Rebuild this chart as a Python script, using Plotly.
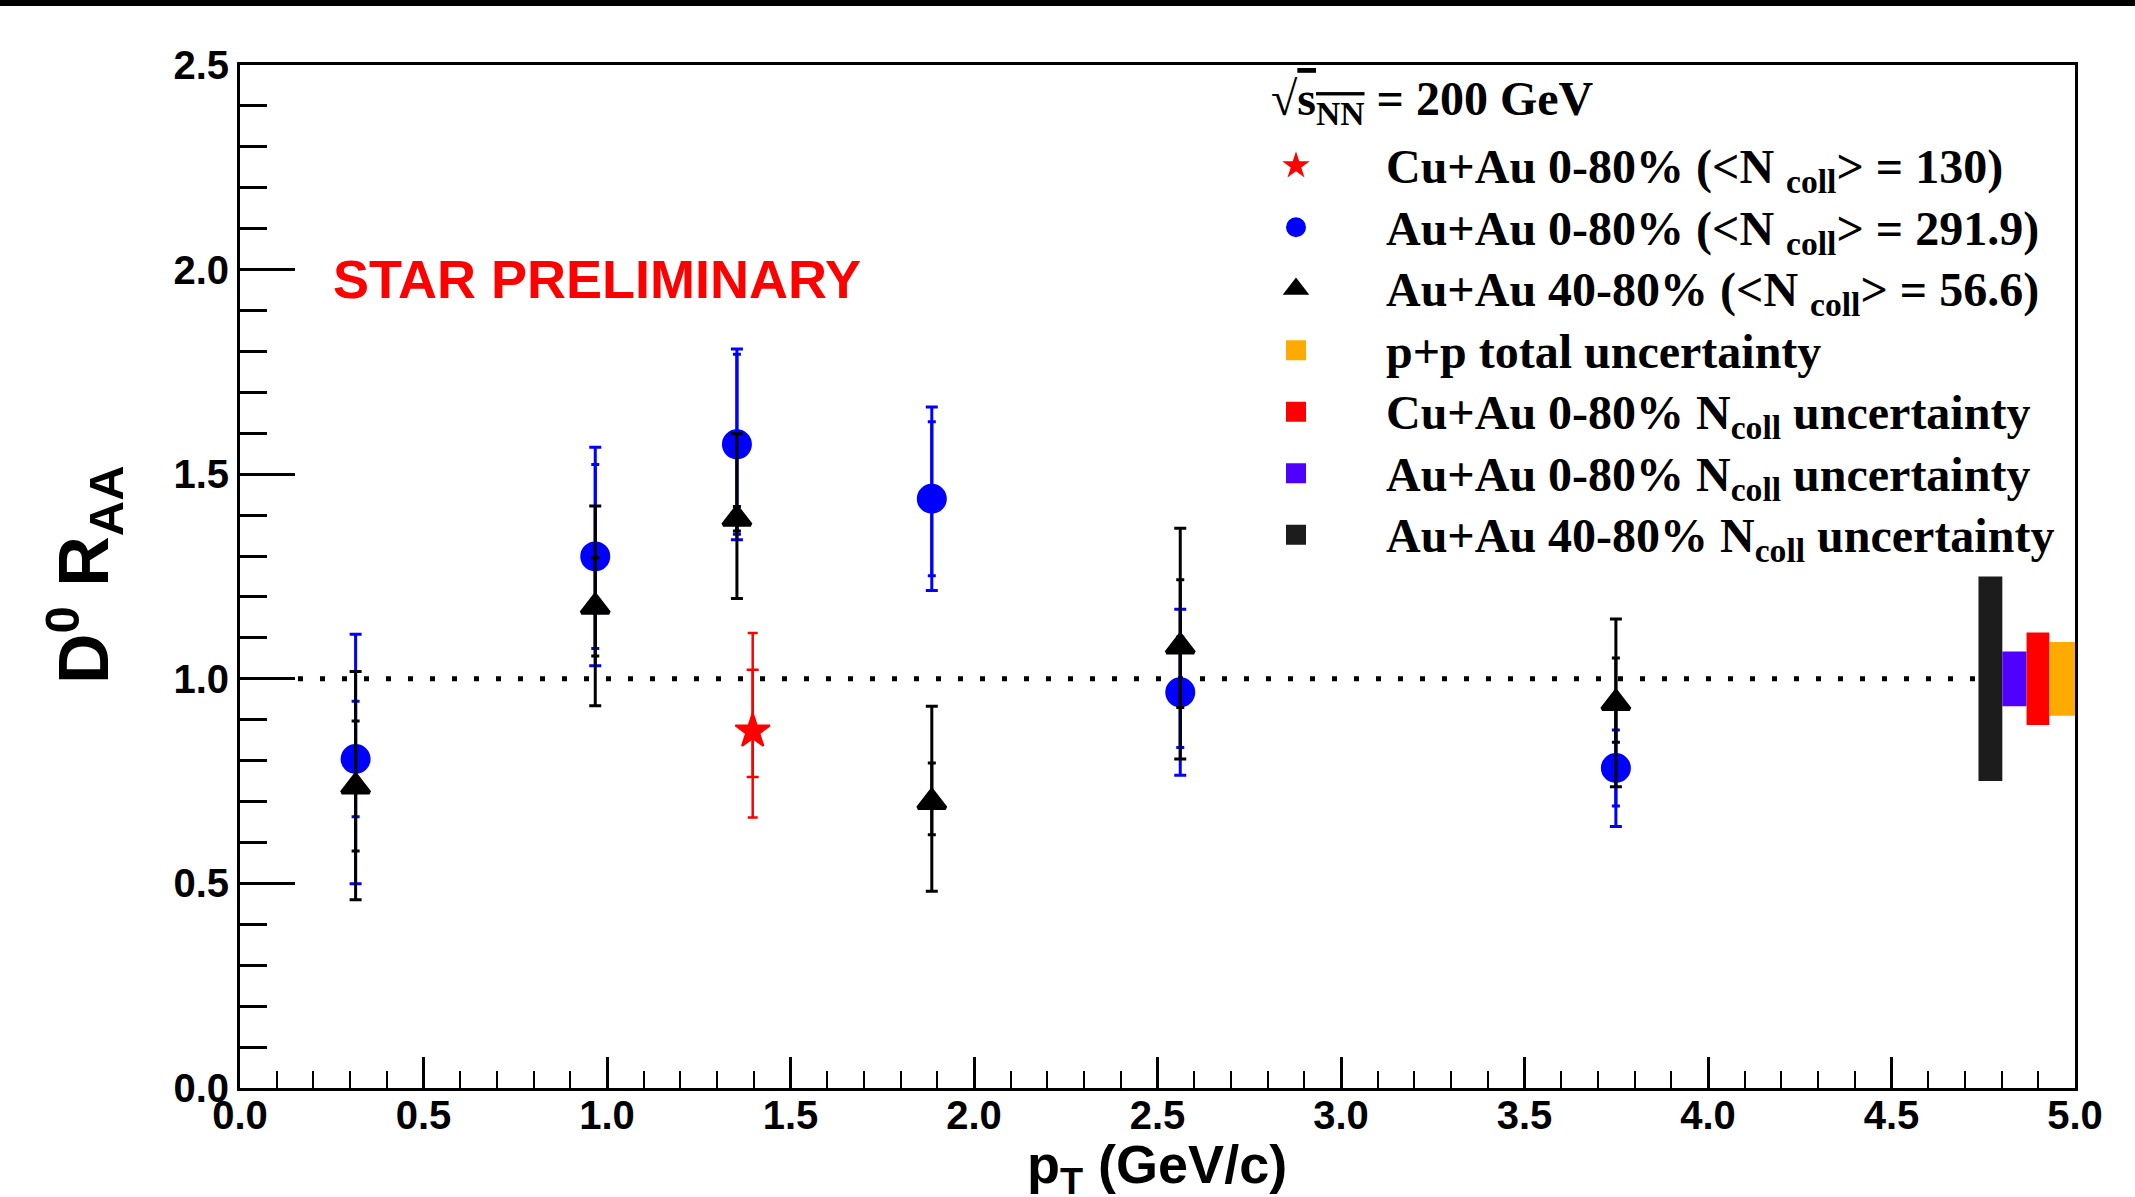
import plotly.graph_objects as go

# ---------------- data ----------------
pt = [0.315, 0.968, 1.354, 1.885, 2.562, 3.749]

auau080_raa = [0.804, 1.299, 1.573, 1.440, 0.967, 0.782]
auau080_stat = [0.305, 0.267, 0.233, 0.224, 0.203, 0.143]
auau080_sys = [0.141, 0.225, 0.220, 0.188, 0.135, 0.093]

auau4080_raa = [0.737, 1.176, 1.391, 0.699, 1.079, 0.941]
auau4080_stat_up = [0.281, 0.246, 0.208, 0.234, 0.289, 0.205]
auau4080_stat_dn = [0.277, 0.242, 0.195, 0.218, 0.275, 0.205]
auau4080_sys_up = [0.160, 0.120, 0.030, 0.095, 0.163, 0.110]
auau4080_sys_dn = [0.158, 0.120, 0.030, 0.080, 0.149, 0.096]

cuau_pt = [1.397]
cuau_raa = [0.872]
cuau_stat_up = [0.240]
cuau_stat_dn = [0.211]
cuau_sys_up = [0.150]
cuau_sys_dn = [0.112]

# N_coll / normalisation uncertainty boxes around unity
box_names = ["Au+Au 40-80% N<sub>coll</sub> uncertainty",
             "Au+Au 0-80% N<sub>coll</sub> uncertainty",
             "Cu+Au 0-80% N<sub>coll</sub> uncertainty",
             "p+p total uncertainty"]
box_x0 = [4.737, 4.802, 4.868, 4.930]
box_x1 = [4.802, 4.868, 4.930, 5.000]
box_half = [0.250, 0.067, 0.113, 0.090]
box_colors = ["#1c1c1c", "#5000ff", "#ff0000", "#ffaa00"]
box_rank = [7, 6, 5, 4]

x_ticks = [0.0, 0.5, 1.0, 1.5, 2.0, 2.5, 3.0, 3.5, 4.0, 4.5, 5.0]
y_ticks = [0.0, 0.5, 1.0, 1.5, 2.0, 2.5]

# ---------------- layout helpers ----------------
W, H = 2135, 1197
L, R, T, B = 240, 2075, 65, 1088


def px(x):
    return (x - L) / (R - L)


def py(y):
    return (B - y) / (B - T)


SERIF = "Liberation Serif"
SANS = "Liberation Sans"


def big(s):
    return "<span style='font-size:48px'>" + s + "</span>"


fig = go.Figure()

# uncertainty boxes (bars with base)
for name, x0, x1, hw, c in zip(box_names, box_x0, box_x1, box_half, box_colors):
    fig.add_trace(go.Bar(
        x=[(x0 + x1) / 2], y=[2 * hw], base=[1 - hw], width=[x1 - x0],
        marker=dict(color=c, line=dict(width=0)), showlegend=False,
        legendgroup=name, hoverinfo="skip"))

# Au+Au 0-80% (blue circles)
fig.add_trace(go.Scatter(
    x=pt, y=auau080_raa, mode="markers", showlegend=False, hoverinfo="skip",
    marker=dict(opacity=0, size=2, color="#0000ff"),
    error_y=dict(type="data", array=auau080_sys, color="#0000ff", thickness=3, width=4)))
fig.add_trace(go.Scatter(
    x=pt, y=auau080_raa, mode="markers", legendrank=2,
    name=big("Au+Au 0-80% (&lt;N <sub>coll</sub>&gt; = 291.9)"),
    marker=dict(symbol="circle", size=26, color="#0000ff", line=dict(width=4, color="#0000ff")),
    error_y=dict(type="data", array=auau080_stat, color="#0000ff", thickness=3, width=6)))

# Au+Au 40-80% (black triangles)
fig.add_trace(go.Scatter(
    x=pt, y=auau4080_raa, mode="markers", showlegend=False, hoverinfo="skip",
    marker=dict(opacity=0, size=2, color="black"),
    error_y=dict(type="data", symmetric=False, array=auau4080_sys_up,
                 arrayminus=auau4080_sys_dn, color="black", thickness=3, width=4)))
fig.add_trace(go.Scatter(
    x=pt, y=auau4080_raa, mode="markers", legendrank=3,
    name=big("Au+Au 40-80% (&lt;N <sub>coll</sub>&gt; = 56.6)"),
    marker=dict(symbol="triangle-up", size=24, color="black", line=dict(width=4, color="black")),
    error_y=dict(type="data", symmetric=False, array=auau4080_stat_up,
                 arrayminus=auau4080_stat_dn, color="black", thickness=3, width=6)))

# Cu+Au 0-80% (red star)
fig.add_trace(go.Scatter(
    x=cuau_pt, y=cuau_raa, mode="markers", showlegend=False, hoverinfo="skip",
    marker=dict(opacity=0, size=2, color="red"),
    error_y=dict(type="data", symmetric=False, array=cuau_sys_up,
                 arrayminus=cuau_sys_dn, color="#ff0000", thickness=2.5, width=6)))
fig.add_trace(go.Scatter(
    x=cuau_pt, y=cuau_raa, mode="markers", legendrank=1,
    name=big("Cu+Au 0-80% (&lt;N <sub>coll</sub>&gt; = 130)"),
    marker=dict(symbol="star", size=26, color="#ff0000", line=dict(width=2, color="#ff0000")),
    error_y=dict(type="data", symmetric=False, array=cuau_stat_up,
                 arrayminus=cuau_stat_dn, color="#ff0000", thickness=2.5, width=5)))

# legend entries for the uncertainty boxes
for name, c, rk in zip(box_names, box_colors, box_rank):
    fig.add_trace(go.Scatter(
        x=[None], y=[None], mode="markers", name=big(name), legendrank=rk, legendgroup=name,
        marker=dict(symbol="square", size=16, color=c, line=dict(width=4, color=c))))

# unity reference line
fig.add_shape(type="line", xref="x", yref="y", x0=0.158, x1=4.737, y0=1, y1=1,
              line=dict(color="black", width=5, dash="5px,17px"), layer="below")

# thin black band at very top of the canvas
fig.add_shape(type="rect", xref="paper", yref="paper",
              x0=px(0), x1=px(W), y0=py(6), y1=py(0),
              fillcolor="black", line=dict(width=0), layer="above")

axis_common = dict(
    showline=True, linecolor="black", linewidth=3, mirror=True,
    ticks="inside", tickcolor="black", showgrid=False, zeroline=False,
    tickformat=".1f",
    tickfont=dict(family=SANS, size=40, color="black", weight="bold"),
)

fig.update_layout(
    width=W, height=H,
    margin=dict(l=L, r=W - R, t=T, b=H - B, pad=0),
    paper_bgcolor="white", plot_bgcolor="white",
    barmode="overlay",
    xaxis=dict(range=[0, 5], tickvals=x_ticks, ticklen=31, tickwidth=2.5,
               ticklabelstandoff=-10,
               minor=dict(dtick=0.1, ticklen=17, tickwidth=2, ticks="inside", tickcolor="black"),
               **axis_common),
    yaxis=dict(range=[0, 2.5], tickvals=y_ticks, ticklen=55, tickwidth=2.5,
               minor=dict(dtick=0.1, ticklen=27, tickwidth=2.5, ticks="inside", tickcolor="black"),
               **axis_common),
    legend=dict(x=px(1206), y=py(130), xanchor="left", yanchor="top",
                bgcolor="rgba(0,0,0,0)", borderwidth=0, itemwidth=170,
                font=dict(family=SERIF, size=45, color="black", weight="bold"),
                traceorder="normal"),
    showlegend=True,
    annotations=[
        dict(text="STAR PRELIMINARY", xref="paper", yref="paper",
             x=px(597), y=py(279), xanchor="center", yanchor="middle", showarrow=False,
             font=dict(family=SANS, size=54, color="#ff0000", weight="bold")),
        dict(text="&#8730;<span style='text-decoration:overline'>s<sub>NN</sub></span> = 200 GeV",
             xref="paper", yref="paper", x=px(1269), y=py(102), xanchor="left", yanchor="middle",
             showarrow=False, font=dict(family=SERIF, size=48, color="black", weight="bold")),
        dict(text="p<sub>T</sub> (GeV/c)", xref="paper", yref="paper",
             x=px(1157), y=py(1168), xanchor="center", yanchor="middle", showarrow=False,
             font=dict(family=SANS, size=54, color="black", weight="bold")),
        dict(text="D<sup>0</sup> R<sub>AA</sub>", xref="paper", yref="paper",
             x=px(84), y=py(575), xanchor="center", yanchor="middle", showarrow=False,
             textangle=-90, font=dict(family=SANS, size=70, color="black", weight="bold")),
    ],
)

fig.write_html("out.html", config={"displayModeBar": False},
               post_script="document.body.style.margin='0px';")
